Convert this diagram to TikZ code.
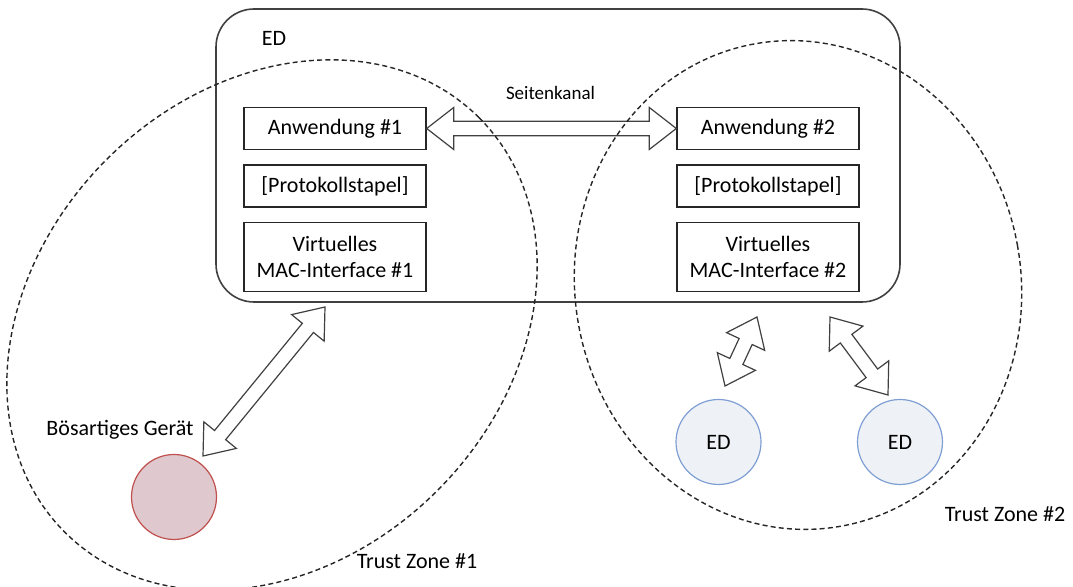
\documentclass[tikz,border=0pt]{standalone}
\usepackage{fontspec}
\setmainfont{Carlito}
\usepackage{xcolor}
\usepackage{tikz}
\usetikzlibrary{positioning, calc}

\definecolor{evilfill}{HTML}{DFC8CE}
\definecolor{evilline}{HTML}{C0504D}
\definecolor{edfill}{HTML}{EEF2F6}
\definecolor{edline}{HTML}{7F9FD4}

% hollow two-headed block arrow from #1 to #2
\newcommand{\blockarrow}[2]{%
    \draw[blockline] (#1)
        -- ($(#1)!13.5pt!(#2)!10.5pt!90:(#2)$)
        -- ($(#1)!13.5pt!(#2)!3.6pt!90:(#2)$)
        -- ($(#2)!13.5pt!(#1)!3.6pt!-90:(#1)$)
        -- ($(#2)!13.5pt!(#1)!10.5pt!-90:(#1)$)
        -- (#2)
        -- ($(#2)!13.5pt!(#1)!10.5pt!90:(#1)$)
        -- ($(#2)!13.5pt!(#1)!3.6pt!90:(#1)$)
        -- ($(#1)!13.5pt!(#2)!3.6pt!-90:(#2)$)
        -- ($(#1)!13.5pt!(#2)!10.5pt!-90:(#2)$)
        -- cycle;}

\begin{document}
\begin{tikzpicture}[x=0.5pt, y=-0.5pt, node distance=7pt,
            font=\fontsize{11}{13.25}\selectfont,
            stackbox/.style={draw=black!85, line width=0.7pt, minimum width=91pt, minimum height=21pt, inner sep=0pt, align=center},
            device/.style={circle, line width=0.6pt, minimum size=42.5pt, inner sep=0pt},
            blockline/.style={draw=black!75, line width=0.6pt, fill=white, line join=miter},
            zone/.style={draw=black!85, line width=0.7pt, dash pattern=on 2.5pt off 1.6pt}]
            \useasboundingbox (0,0) rectangle (1073,587);

            % Nodes
            \node[draw=black!75, line width=0.8pt, rounded corners=19pt, minimum width=342pt, minimum height=146.5pt] (host) at (558,155.5) {};
            \node (hostlabel) at (274,38) {ED};
            \node[stackbox] (app1) at (335,128.5) {Anwendung \#1};
            \node[stackbox, below=of app1] (stack1) {[Protokollstapel]};
            \node[stackbox, below=of stack1, minimum height=34.5pt] (mac1) {Virtuelles\\MAC-Interface \#1};
            \node[stackbox] (app2) at (768,128.5) {Anwendung \#2};
            \node[stackbox, below=of app2] (stack2) {[Protokollstapel]};
            \node[stackbox, below=of stack2, minimum height=34.5pt] (mac2) {Virtuelles\\MAC-Interface \#2};
            \node[device, draw=evilline, fill=evilfill] (evil) at (174,497) {};
            \node[device, draw=edline, fill=edfill] (ed1) at (718.5,442) {ED};
            \node[device, draw=edline, fill=edfill] (ed2) at (900,442) {ED};

            % Arrows
            \coordinate (evilend) at (203,456);
            \coordinate (hostend1) at (325,307);
            \coordinate (ed1end) at (725,386);
            \coordinate (hostend2) at (757,317);
            \coordinate (hostend3) at (830,317);
            \coordinate (ed2end) at (888,395);
            \blockarrow{app1.east}{app2.west}
            \blockarrow{evilend}{hostend1}
            \blockarrow{ed1end}{hostend2}
            \blockarrow{hostend3}{ed2end}

            % Trust zones
            \draw[zone] (272,325) ellipse [x radius=146.5pt, y radius=117pt, rotate=45];
            \draw[zone] (798,285) ellipse [x radius=111.5pt, y radius=122.5pt, rotate=10];

            % Labels
            \node[font=\fontsize{9.5}{11}\selectfont] (sidelabel) at (550.5,93) {Seitenkanal};
            \node (evillabel) at (120,430) {Bösartiges Gerät};
            \node (zone1label) at (417,561) {Trust Zone \#1};
            \node (zone2label) at (1005,514) {Trust Zone \#2};
\end{tikzpicture}
\end{document}
